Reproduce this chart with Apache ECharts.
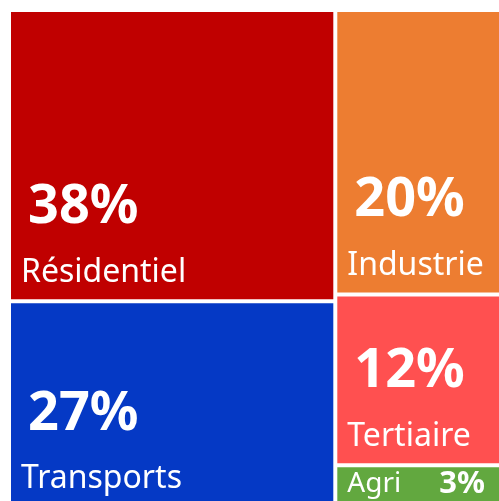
<!DOCTYPE html>
<html>
<head>
<meta charset="utf-8">
<script src="https://cdn.jsdelivr.net/npm/echarts@6/dist/echarts.min.js"></script>
<style>
  html, body { margin: 0; padding: 0; background: #fff; }
  #chart { width: 499px; height: 501px; }
</style>
</head>
<body>
<div id="chart"></div>
<script>
// parts de la consommation d'énergie par secteur (%)
const sectors = ['Résidentiel', 'Transports', 'Industrie', 'Tertiaire', 'Agri'];
const shares = [38, 27, 20, 12, 3];
const colors = ['#C00000', '#0539C5', '#ED7D31', '#FF5050', '#62A83F'];

const BIG_LH = 90;
const NAME_LH = 40;
const SMALL_LH = 32;
const BOTTOM_GAP = 6;
const SMALL_GAP = 5;

const chart = echarts.init(document.getElementById('chart'));

function buildData(padTops) {
    return sectors.map((name, i) => {
        const item = {
            name: name,
            value: shares[i],
            itemStyle: { color: colors[i] },
            label: { padding: [padTops ? padTops[name] : 0, 0, 0, 10] }
        };
        // la petite case : une seule ligne "Agri   3%"
        if (shares[i] < 5) {
            item.label.formatter = (p) => `{s|${p.name}}{sb|${p.value}%}`;
        }
        return item;
    });
}

const option = {
    backgroundColor: '#fff',
    animation: false,
    series: [{
        type: 'treemap',
        left: 11,
        top: 12,
        width: 498,
        height: 494,
        squareRatio: 1,
        roam: false,
        nodeClick: false,
        breadcrumb: { show: false },
        itemStyle: { borderWidth: 0, gapWidth: 4, borderColor: '#fff' },
        levels: [{ itemStyle: { borderWidth: 0, gapWidth: 4, borderColor: '#fff' } }],
        emphasis: { disabled: true },
        label: {
            show: true,
            position: 'insideTopLeft',
            distance: 0,
            color: '#fff',
            fontFamily: 'Noto Sans',
            formatter: (p) => `{big|${p.value}%}\n{name|${p.name}}`,
            rich: {
                big: { fontSize: 54, fontWeight: 'bold', lineHeight: BIG_LH, color: '#fff', fontFamily: 'Noto Sans', padding: [0, 0, 0, 7] },
                name: { fontSize: 32, lineHeight: NAME_LH, color: '#fff', fontFamily: 'Noto Sans' },
                s: { fontSize: 28, lineHeight: SMALL_LH, width: 92, color: '#fff', fontFamily: 'Noto Sans' },
                sb: { fontSize: 31, fontWeight: 'bold', lineHeight: SMALL_LH, color: '#fff', fontFamily: 'Noto Sans' }
            }
        },
        data: buildData(null)
    }]
};

chart.setOption(option);

// treemap labels fill the whole cell from the top: push them to the bottom
// using the cell heights computed by the treemap layout
const tree = chart.getModel().getSeriesByIndex(0).getData().tree;
const padTops = {};
tree.root.children.forEach((node) => {
    const h = node.getLayout().height;
    const small = node.getValue() < 5;
    const contentH = small ? SMALL_LH : BIG_LH + NAME_LH;
    const gap = small ? SMALL_GAP : BOTTOM_GAP;
    padTops[node.name] = Math.max(Math.floor(h - contentH - gap), 0);
});
chart.setOption({ series: [{ data: buildData(padTops) }] });
</script>
</body>
</html>
